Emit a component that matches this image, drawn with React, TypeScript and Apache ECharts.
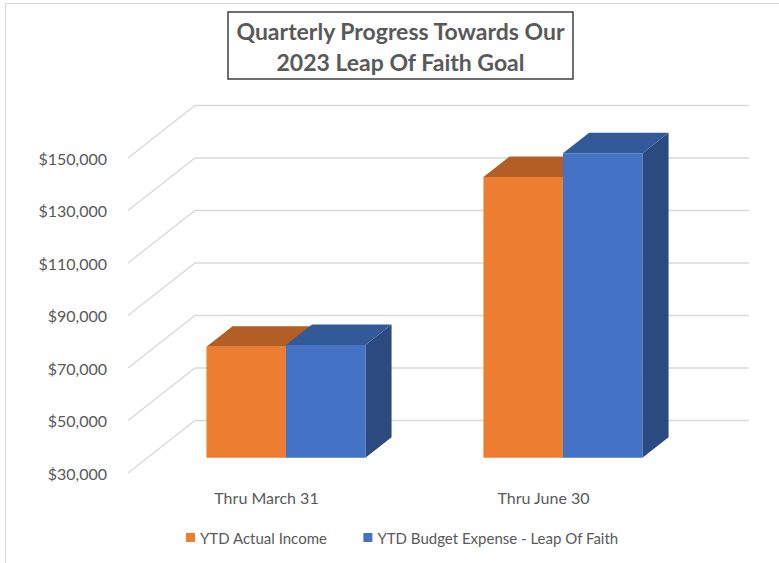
import React, { useEffect, useRef } from "react";
import * as echarts from "echarts";

const categories = ["Thru March 31", "Thru June 30"];
const seriesNames = ["YTD Actual Income", "YTD Budget Expense - Leap Of Faith"];
const actualIncome = [72300, 137000];
const budgetExpense = [73000, 146000];
const yTicks = [30000, 50000, 70000, 90000, 110000, 130000, 150000];
const titleLines = ["Quarterly Progress Towards Our", "2023 Leap Of Faith Goal"];

const FONT = "Lato, 'Open Sans', sans-serif";
const TEXT = "#595959";
const DX = 67;
const DY = 52.5;
const BAR_FRONT = 0.29;
const BAR_DEPTH = 0.39;
const BAR_W = 0.287;

const palettes = [
  { front: "#ED7D31", top: "#B35E24", side: "#A9561F" },
  { front: "#4472C4", top: "#335A98", side: "#2B4A7F" },
];

function gridRender(params: any, api: any) {
  const cs = params.coordSys;
  const v = api.value(1);
  const y = api.coord([0, v])[1];
  const x0 = cs.x;
  const x1 = cs.x + cs.width;
  return {
    type: "polyline",
    shape: { points: [[x0, y], [x0 + DX, y - DY], [x1 + DX, y - DY]] },
    style: { stroke: "#D9D9D9", lineWidth: 1.3, fill: null },
    silent: true,
  };
}

function makeBarRender(s: number) {
  const c = palettes[s];
  return (params: any, api: any) => {
    const cat = api.value(0);
    const v = api.value(1);
    const top = api.coord([cat, v]);
    const base = api.coord([cat, yTicks[0]]);
    const band = api.size([1, 0])[0];
    const w = band * BAR_W;
    const fx = top[0] - w + s * w + DX * BAR_FRONT;
    const fdy = DY * BAR_FRONT;
    const yt = top[1] - fdy;
    const yb = base[1] - fdy;
    const ddx = DX * BAR_DEPTH;
    const ddy = DY * BAR_DEPTH;
    return {
      type: "group",
      children: [
        {
          type: "polygon",
          shape: { points: [[fx + w, yt], [fx + w + ddx, yt - ddy], [fx + w + ddx, yb - ddy], [fx + w, yb]] },
          style: { fill: c.side },
        },
        {
          type: "polygon",
          shape: { points: [[fx, yt], [fx + ddx, yt - ddy], [fx + w + ddx, yt - ddy], [fx + w, yt]] },
          style: { fill: c.top },
        },
        {
          type: "rect",
          shape: { x: fx, y: yt, width: w, height: yb - yt },
          style: { fill: c.front },
        },
      ],
    };
  };
}

export default function App() {
  const ref = useRef<HTMLDivElement>(null);
  useEffect(() => {
    if (!ref.current) return;
    const chart = echarts.init(ref.current, null, { renderer: "svg" });
    const option: any = {
      animation: false,
      backgroundColor: "#ffffff",
      grid: { left: 128, right: 97, top: 158, bottom: 90, containLabel: false },
      xAxis: {
        type: "category",
        data: categories,
        axisLine: { show: false },
        axisTick: { show: false },
        axisLabel: { color: TEXT, fontFamily: FONT, fontSize: 16, margin: 16 },
      },
      yAxis: {
        type: "value",
        min: yTicks[0],
        max: yTicks[yTicks.length - 1],
        interval: yTicks[1] - yTicks[0],
        splitLine: { show: false },
        axisLine: { show: false },
        axisTick: { show: false },
        axisLabel: {
          color: TEXT,
          fontFamily: FONT,
          fontSize: 16,
          margin: 21,
          formatter: (v: number) => "$" + v.toLocaleString("en-US"),
        },
      },
      legend: {
        data: seriesNames,
        left: 181,
        top: 525,
        icon: "rect",
        itemWidth: 9,
        itemHeight: 9,
        itemGap: 36,
        textStyle: { color: TEXT, fontFamily: FONT, fontSize: 15, padding: [0, 0, 0, 0] },
      },
      graphic: [
        { type: "line", shape: { x1: 5.5, y1: 3.5, x2: 779, y2: 3.5 }, style: { stroke: "#D9D9D9", lineWidth: 1 } },
        { type: "line", shape: { x1: 5.5, y1: 3.5, x2: 5.5, y2: 563 }, style: { stroke: "#D9D9D9", lineWidth: 1 } },
        {
          type: "rect",
          shape: { x: 228, y: 12, width: 345, height: 67 },
          style: { fill: "#ffffff", stroke: "#404040", lineWidth: 1.5 },
        },
        {
          type: "text",
          x: 400.5,
          y: 46,
          style: {
            text: titleLines.join("\n"),
            fill: TEXT,
            font: `bold 23px ${FONT}`,
            lineHeight: 31,
            align: "center",
            verticalAlign: "middle",
          },
        },
      ],
      series: [
        {
          type: "custom",
          renderItem: gridRender,
          data: yTicks.map((v) => [0, v]),
          silent: true,
          z: 1,
        },
        {
          type: "custom",
          name: seriesNames[0],
          renderItem: makeBarRender(0),
          itemStyle: { color: palettes[0].front },
          data: actualIncome.map((v, i) => [i, v]),
          z: 2,
        },
        {
          type: "custom",
          name: seriesNames[1],
          renderItem: makeBarRender(1),
          itemStyle: { color: palettes[1].front },
          data: budgetExpense.map((v, i) => [i, v]),
          z: 3,
        },
      ],
    };
    chart.setOption(option);
    return () => chart.dispose();
  }, []);
  return (
    <div
      ref={ref}
      style={{ position: "fixed", left: 0, top: 0, width: 779, height: 563, background: "#fff" }}
    />
  );
}
